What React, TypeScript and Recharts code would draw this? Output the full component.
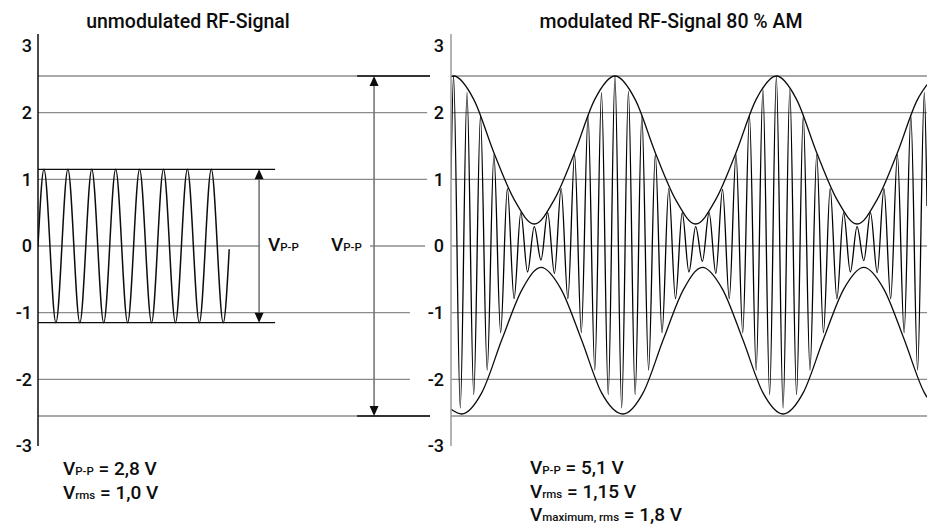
import { LineChart, Line, XAxis, YAxis, ReferenceLine } from "recharts";

// ---- axis ----
const yTicks = [-3, -2, -1, 0, 1, 2, 3];
const gridLevels = [2, 1, 0, -1, -2];
const yDomain: [number, number] = [-3, 3.18];

// ---- unmodulated RF signal (t in carrier periods) ----
const unmodPeaks = [1.15, 1.15, 1.15, 1.15, 1.15, 1.15, 1.15, 1.15];
const unmodTroughs = [-1.15, -1.15, -1.15, -1.15, -1.15, -1.15, -1.15, -1.15];
const unmodFirst = 0;
const unmodLast = -0.05;
const unmodLevel = 1.15;

// ---- 80 % AM signal: carrier extrema per period ----
const amPeaks = [
  2.55, 2.3, 1.95, 1.37, 0.86, 0.5, 0.29, 0.5, 0.86, 1.37, 1.95, 2.3,
  2.55, 2.32, 1.95, 1.37, 0.86, 0.5, 0.29, 0.5, 0.85, 1.37, 1.95, 2.35,
  2.54, 2.35, 1.95, 1.37, 0.86, 0.5, 0.29, 0.5, 0.86, 1.37, 1.95, 2.3,
];
const amTroughs = [
  -2.43, -2.23, -1.86, -1.3, -0.79, -0.39, -0.21, -0.41, -0.79, -1.3, -1.86, -2.23,
  -2.43, -2.23, -1.86, -1.3, -0.79, -0.39, -0.23, -0.41, -0.79, -1.3, -1.86, -2.23,
  -2.43, -2.23, -1.86, -1.3, -0.79, -0.39, -0.22, -0.4, -0.79, -1.3, -1.86,
];
const amFirst = 1.0;
const amLast = 0.6;
const amLevel = 2.55;

// envelopes
const upperEnvT = [-0.19, 0, 1.5, 3, 4.5, 6, 7.5, 9, 10.5, 12, 13.5, 15, 16.5, 18, 19.5, 21, 22.5, 24, 25.5, 27, 28.5, 30, 31.5, 33, 34.5, 35.2];
const upperEnvV = [2.54, 2.55, 2.2, 1.4, 0.7, 0.33, 0.7, 1.4, 2.2, 2.55, 2.2, 1.4, 0.7, 0.33, 0.7, 1.4, 2.2, 2.55, 2.2, 1.4, 0.7, 0.33, 0.7, 1.4, 2.2, 2.42];
const lowerEnvT = [-0.19, 0.6, 2.1, 3.6, 5.1, 6.5, 8, 9.5, 11, 12.6, 14.1, 15.6, 17.1, 18.5, 20, 21.5, 23, 24.5, 26, 27.5, 29, 30.5, 32, 33.5, 35, 35.2];
const lowerEnvV = [-2.45, -2.52, -2.2, -1.4, -0.65, -0.32, -0.65, -1.4, -2.2, -2.52, -2.2, -1.4, -0.65, -0.32, -0.65, -1.4, -2.2, -2.52, -2.2, -1.4, -0.65, -0.32, -0.65, -1.4, -2.2, -2.27];

const leftT: [number, number] = [0, 16.4];
const rightT: [number, number] = [-0.19, 35.2];

function carrier(peaks: number[], troughs: number[], offset: number, first: number, last: number, t0: number, t1: number) {
  const rows = [{ t: t0, v: first }];
  peaks.forEach((p, k) => {
    rows.push({ t: k + offset, v: p });
    if (k < troughs.length) rows.push({ t: k + offset + 0.5, v: troughs[k] });
  });
  rows.push({ t: t1, v: last });
  return rows;
}

const unmodData = carrier(unmodPeaks, unmodTroughs, 0.25, unmodFirst, unmodLast, 0, 8);
const amData = carrier(amPeaks, amTroughs, 0, amFirst, amLast, rightT[0], rightT[1]);
const upperEnv = upperEnvT.map((t, i) => ({ t, v: upperEnvV[i] }));
const lowerEnv = lowerEnvT.map((t, i) => ({ t, v: lowerEnvV[i] }));

// where the left grid lines stop (right panel labels sit there)
const leftGridEnd: Record<number, number> = { 2: 16.28, 1: 16.28, 0: 16.19, [-1]: 15.56, [-2]: 15.56 };
const zeroGap: [number, number] = [9.29, 13.89];

const FONT = "Roboto, sans-serif";
const INK = "#0d0d0d";
const GRID = "#8c8c8c";

function VArrow(props: any) {
  const { x1, y1, y2 } = props;
  const top = Math.min(y1, y2);
  const bottom = Math.max(y1, y2);
  const hw = 4.5;
  const hh = 10;
  return (
    <g>
      <line x1={x1} y1={top + 2} x2={x1} y2={bottom - 2} stroke="#777" strokeWidth={1.6} />
      <polygon points={`${x1},${top} ${x1 - hw},${top + hh} ${x1 + hw},${top + hh}`} fill={INK} />
      <polygon points={`${x1},${bottom} ${x1 - hw},${bottom - hh} ${x1 + hw},${bottom - hh}`} fill={INK} />
    </g>
  );
}

const tickStyle = { fill: INK, fontSize: 18, fontWeight: 500, fontFamily: FONT };

function Sub({ main, sub, rest }: { main: string; sub: string; rest?: string }) {
  return (
    <>
      <tspan fontSize={19}>{main}</tspan>
      <tspan fontSize={11.5}>{sub}</tspan>
      {rest ? <tspan fontSize={19}>{rest}</tspan> : null}
    </>
  );
}

export default function App() {
  return (
    <div style={{ position: "absolute", left: 0, top: 0, width: 927, height: 528, background: "#fff", fontFamily: FONT }}>
      <div style={{ position: "absolute", left: 0, top: 0 }}>
        <LineChart width={440} height={528} margin={{ top: 34, right: 10, bottom: 82, left: 0 }}>
          <XAxis type="number" dataKey="t" domain={leftT} hide allowDataOverflow />
          <YAxis
            type="number"
            domain={yDomain}
            ticks={yTicks}
            interval={0}
            width={38}
            allowDataOverflow
            axisLine={{ stroke: INK, strokeWidth: 1.5 }}
            tickLine={false}
            tickSize={4}
            tickMargin={2}
            tick={tickStyle}
          />
          {gridLevels.map((g) =>
            g === 0 ? null : (
              <ReferenceLine key={`g${g}`} segment={[{ x: 0, y: g }, { x: leftGridEnd[g], y: g }]} stroke={GRID} strokeWidth={1.4} />
            )
          )}
          <ReferenceLine segment={[{ x: 0, y: 0 }, { x: zeroGap[0], y: 0 }]} stroke={GRID} strokeWidth={1.4} />
          <ReferenceLine segment={[{ x: zeroGap[1], y: 0 }, { x: leftGridEnd[0], y: 0 }]} stroke={GRID} strokeWidth={1.4} />
          <ReferenceLine y={amLevel} stroke={GRID} strokeWidth={1.4} />
          <ReferenceLine y={-amLevel} stroke={GRID} strokeWidth={1.4} />
          <ReferenceLine segment={[{ x: 0, y: unmodLevel }, { x: 9.92, y: unmodLevel }]} stroke={INK} strokeWidth={1.4} />
          <ReferenceLine segment={[{ x: 0, y: -unmodLevel }, { x: 9.92, y: -unmodLevel }]} stroke={INK} strokeWidth={1.4} />
          <ReferenceLine segment={[{ x: 13.35, y: amLevel }, { x: 16.4, y: amLevel }]} stroke={INK} strokeWidth={1.4} />
          <ReferenceLine segment={[{ x: 13.35, y: -amLevel }, { x: 16.4, y: -amLevel }]} stroke={INK} strokeWidth={1.4} />
          <ReferenceLine segment={[{ x: 9.25, y: unmodLevel }, { x: 9.25, y: -unmodLevel }]} shape={VArrow} />
          <ReferenceLine segment={[{ x: 14.06, y: amLevel }, { x: 14.06, y: -amLevel }]} shape={VArrow} />
          <Line data={unmodData} dataKey="v" type="monotone" stroke={INK} strokeWidth={1.5} dot={false} isAnimationActive={false} />
        </LineChart>
      </div>
      <div style={{ position: "absolute", left: 400, top: 0 }}>
        <LineChart width={527} height={528} margin={{ top: 34, right: 0, bottom: 82, left: 0 }}>
          <XAxis type="number" dataKey="t" domain={rightT} hide allowDataOverflow />
          <YAxis
            type="number"
            domain={yDomain}
            ticks={yTicks}
            interval={0}
            width={51}
            allowDataOverflow
            axisLine={{ stroke: "#9a9a9a", strokeWidth: 1.5 }}
            tickLine={false}
            tickSize={5}
            tickMargin={2}
            tick={tickStyle}
          />
          {gridLevels.map((g) => (
            <ReferenceLine key={`r${g}`} y={g} stroke={GRID} strokeWidth={1.4} />
          ))}
          <ReferenceLine y={amLevel} stroke={GRID} strokeWidth={1.4} />
          <ReferenceLine y={-amLevel} stroke={GRID} strokeWidth={1.4} />
          <Line data={upperEnv} dataKey="v" type="monotone" stroke={INK} strokeWidth={1.3} dot={false} isAnimationActive={false} />
          <Line data={lowerEnv} dataKey="v" type="monotone" stroke={INK} strokeWidth={1.3} dot={false} isAnimationActive={false} />
          <Line data={amData} dataKey="v" type="monotone" stroke="#000" strokeWidth={1.3} dot={false} isAnimationActive={false} />
        </LineChart>
      </div>
      <svg width={927} height={528} style={{ position: "absolute", left: 0, top: 0, pointerEvents: "none" }} fontFamily={FONT} fill={INK} fontWeight={500}>
        <text x={188} y={28} textAnchor="middle" fontSize={19.5}>unmodulated RF-Signal</text>
        <text x={671} y={28} textAnchor="middle" fontSize={19.5}>modulated RF-Signal 80 % AM</text>
        <text x={268} y={251}><Sub main="V" sub="P-P" /></text>
        <text x={331} y={251}><Sub main="V" sub="P-P" /></text>
        <text x={63} y={475}><Sub main="V" sub="P-P" rest=" = 2,8 V" /></text>
        <text x={63} y={499}><Sub main="V" sub="rms" rest=" = 1,0 V" /></text>
        <text x={530} y={474}><Sub main="V" sub="P-P" rest=" = 5,1 V" /></text>
        <text x={530} y={498}><Sub main="V" sub="rms" rest=" = 1,15 V" /></text>
        <text x={530} y={521}><Sub main="V" sub="maximum, rms" rest=" = 1,8 V" /></text>
      </svg>
    </div>
  );
}
